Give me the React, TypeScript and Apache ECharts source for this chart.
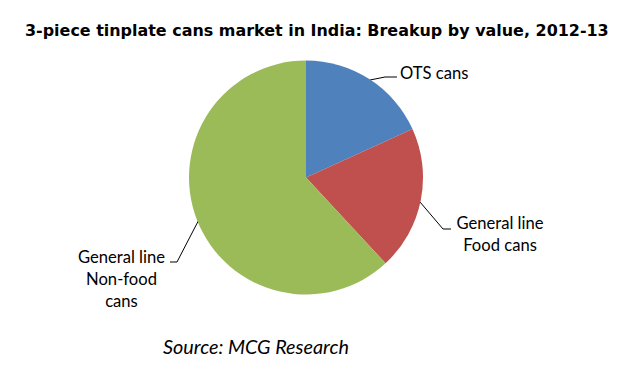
import React, { useEffect, useRef } from "react";
import * as echarts from "echarts";

const categories = ["OTS cans", "General line\nFood cans", "General line\nNon-food\ncans"];
const values = [18.2, 19.9, 61.9];
const colors = ["#4F81BD", "#C0504D", "#9BBB59"];
const titleText = "3-piece tinplate cans market in India: Breakup by value, 2012-13";
const sourceText = "Source: MCG Research";

const labelPlaces = [
  { x: 400, y: 73, align: "left", line: [[370, 80], [385, 77], [397, 77]] },
  { x: 500, y: 234, align: "center", line: [[420, 202], [443, 229], [451, 229]] },
  { x: 121.5, y: 279, align: "center", line: [[198.5, 220.5], [177, 262], [170, 262]] },
];

export default function App() {
  const ref = useRef<HTMLDivElement>(null);
  useEffect(() => {
    if (!ref.current) return;
    const chart = echarts.init(ref.current, null, { renderer: "svg" });
    chart.setOption({
      animation: false,
      backgroundColor: "#ffffff",
      title: [
        {
          text: titleText,
          left: 20,
          top: 17,
          textStyle: { fontFamily: "DejaVu Sans", fontWeight: "bold", fontSize: 15.95, color: "#000" },
        },
        {
          text: sourceText,
          left: 158,
          top: 331,
          textStyle: { fontFamily: "Lato", fontStyle: "italic", fontWeight: "normal", fontSize: 19.8, color: "#000" },
        },
      ],
      series: [
        {
          type: "pie",
          center: [306, 177.5],
          radius: 117,
          startAngle: 90,
          clockwise: true,
          data: categories.map((c, i) => ({ name: c, value: values[i], itemStyle: { color: colors[i] } })),
          itemStyle: { borderWidth: 0 },
          label: {
            show: true,
            formatter: "{b}",
            fontFamily: "Lato",
            fontSize: 16.6,
            lineHeight: 22,
            color: "#000",
          },
          labelLine: { show: true, lineStyle: { color: "#000", width: 1 } },
          labelLayout: (params: any) => {
            const p = labelPlaces[params.dataIndex];
            return {
              x: p.x,
              y: p.y,
              align: p.align,
              verticalAlign: "middle",
              labelLinePoints: p.line,
            };
          },
          emphasis: { disabled: true },
        },
      ],
    });
    return () => chart.dispose();
  }, []);
  return <div ref={ref} style={{ width: 621, height: 383, margin: -8 }} />;
}
